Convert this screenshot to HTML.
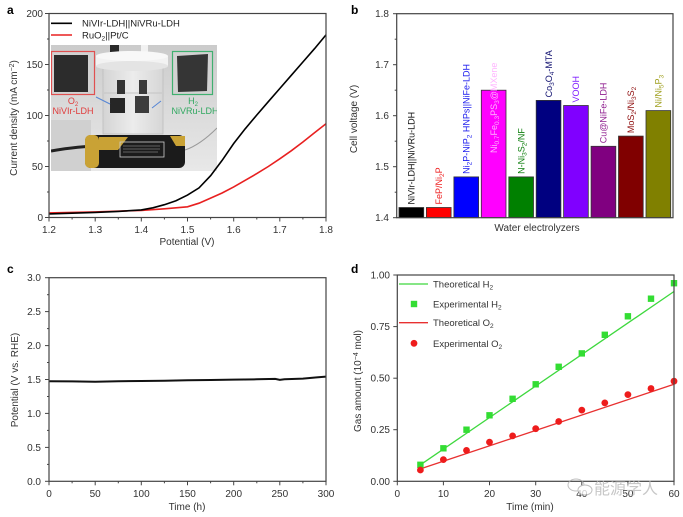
<!DOCTYPE html>
<html><head><meta charset="utf-8"><style>
html,body{margin:0;padding:0;background:#fff;}
svg{display:block;font-family:"Liberation Sans",Arial,sans-serif;}
</style></head><body>
<svg width="683" height="517" viewBox="0 0 683 517" xmlns="http://www.w3.org/2000/svg">
<defs>
<clipPath id="ph"><rect x="51" y="45" width="166" height="126"/></clipPath>
<linearGradient id="bg" x1="0" y1="0" x2="0" y2="1"><stop offset="0" stop-color="#cbcbcb"/><stop offset="0.5" stop-color="#dadada"/><stop offset="1" stop-color="#e8e8e8"/></linearGradient>
<linearGradient id="gl" x1="0" y1="0" x2="1" y2="0"><stop offset="0" stop-color="#d4d4d4"/><stop offset="0.5" stop-color="#ececec"/><stop offset="1" stop-color="#d6d6d6"/></linearGradient>
</defs>

<!-- ================= Panel a ================= -->
<text x="7" y="14" font-size="12" font-weight="bold">a</text>
<g clip-path="url(#ph)">
<rect x="51" y="45" width="166" height="126" fill="url(#bg)"/>
<rect x="51" y="120" width="40" height="51" fill="#d0d0d0"/>
<rect x="103" y="62" width="60" height="72" fill="url(#gl)" stroke="#bdbdbd" stroke-width="0.8"/>
<line x1="104" y1="93" x2="162" y2="93" stroke="#c4c4c4" stroke-width="1"/>
<rect x="110" y="45" width="9" height="7" fill="#2a2a2a"/>
<rect x="141" y="45" width="7" height="10" fill="#f2f2f2"/>
<rect x="96" y="56" width="72" height="10" fill="#f2f2f2"/>
<ellipse cx="132" cy="56" rx="36" ry="5" fill="#f8f8f8"/>
<ellipse cx="132" cy="66" rx="36" ry="5" fill="#e4e4e4"/>
<rect x="117" y="80" width="8" height="14" fill="#333"/>
<rect x="139" y="80" width="8" height="14" fill="#3a3a3a"/>
<rect x="110" y="98" width="15" height="15" fill="#262626"/>
<rect x="135" y="96" width="14" height="17" fill="#3c3c3c"/>
<path d="M51 151 Q80 146 100 146" stroke="#222" stroke-width="3" fill="none"/>
<path d="M185 150 Q200 145 217 128" stroke="#999" stroke-width="1" fill="none"/>
<rect x="85" y="135" width="100" height="33" rx="6" fill="#1b1b1b"/>
<rect x="85" y="135" width="14" height="33" rx="5" fill="#c9a235"/>
<polygon points="99,137 128,137 118,150 99,150" fill="#c9a235"/>
<polygon points="170,136 185,136 185,146 176,146" fill="#c9a235"/>
<rect x="120" y="142" width="44" height="15" fill="none" stroke="#cfcfcf" stroke-width="0.8"/>
<line x1="123" y1="146" x2="160" y2="146" stroke="#aaa" stroke-width="0.6"/>
<line x1="123" y1="149" x2="160" y2="149" stroke="#aaa" stroke-width="0.6"/>
<line x1="123" y1="152" x2="158" y2="152" stroke="#aaa" stroke-width="0.6"/>
<rect x="51.5" y="51.5" width="43" height="43" fill="#d2d2d2" stroke="#e05050" stroke-width="1.2"/>
<rect x="54" y="55" width="34" height="37" fill="#2c2c2c"/>
<rect x="172.5" y="51.5" width="40" height="43" fill="#d2d2d2" stroke="#40b070" stroke-width="1.2"/>
<polygon points="177,56 208,54 207,91 178,92" fill="#353535"/>
<line x1="96" y1="97" x2="110" y2="104" stroke="#5585d5" stroke-width="1"/>
<line x1="161" y1="101" x2="152" y2="108" stroke="#5585d5" stroke-width="1"/>
<text x="73" y="104" font-size="9" fill="#e03a3a" text-anchor="middle">O<tspan font-size="6" dy="2">2</tspan></text>
<text x="73" y="114" font-size="9" fill="#e03a3a" text-anchor="middle">NiVIr-LDH</text>
<text x="193" y="104" font-size="9" fill="#30a860" text-anchor="middle">H<tspan font-size="6" dy="2">2</tspan></text>
<text x="195" y="114" font-size="9" fill="#30a860" text-anchor="middle">NiVRu-LDH</text>
</g>
<polyline fill="none" stroke="#e82020" stroke-width="1.6" points="49,212.9 95.2,211.9 141.3,210.4 164.4,208.8 187.5,206.8 199,203.2 210.6,198.1 222.1,193 233.7,186.9 245.2,180.3 256.8,173.6 268.3,166.5 279.8,158.8 291.4,150.7 302.9,142 314.5,132.8 326,123.7"/>
<polyline fill="none" stroke="#000" stroke-width="1.6" points="49,213.9 72.1,213.2 95.2,212.4 118.3,211.4 141.3,209.9 152.9,207.8 164.4,204.7 176,200.7 187.5,195.1 199,187.9 210.6,175.7 222.1,160.4 233.7,143.5 245.2,128.8 256.8,115 268.3,101.7 279.8,88.5 291.4,75.2 302.9,62 314.5,48.7 326,34.9"/>
<rect x="49" y="13.5" width="277" height="204" fill="none" stroke="#444" stroke-width="1.2"/>
<g stroke="#444" stroke-width="1">
<line x1="45" y1="13.5" x2="49" y2="13.5"/><line x1="45" y1="64.5" x2="49" y2="64.5"/><line x1="45" y1="115.5" x2="49" y2="115.5"/><line x1="45" y1="166.5" x2="49" y2="166.5"/><line x1="45" y1="217.5" x2="49" y2="217.5"/>
<line x1="47" y1="39" x2="49" y2="39"/><line x1="47" y1="90" x2="49" y2="90"/><line x1="47" y1="141" x2="49" y2="141"/><line x1="47" y1="192" x2="49" y2="192"/>
<line x1="49" y1="217.5" x2="49" y2="221.5"/><line x1="95.2" y1="217.5" x2="95.2" y2="221.5"/><line x1="141.3" y1="217.5" x2="141.3" y2="221.5"/><line x1="187.5" y1="217.5" x2="187.5" y2="221.5"/><line x1="233.7" y1="217.5" x2="233.7" y2="221.5"/><line x1="279.8" y1="217.5" x2="279.8" y2="221.5"/><line x1="326" y1="217.5" x2="326" y2="221.5"/>
<line x1="72.1" y1="217.5" x2="72.1" y2="219.5"/><line x1="118.3" y1="217.5" x2="118.3" y2="219.5"/><line x1="164.4" y1="217.5" x2="164.4" y2="219.5"/><line x1="210.6" y1="217.5" x2="210.6" y2="219.5"/><line x1="256.8" y1="217.5" x2="256.8" y2="219.5"/><line x1="302.9" y1="217.5" x2="302.9" y2="219.5"/>
</g>
<g font-size="10" fill="#333" text-anchor="end">
<text x="43" y="17">200</text><text x="43" y="68">150</text><text x="43" y="119">100</text><text x="43" y="170">50</text><text x="43" y="221">0</text>
</g>
<g font-size="10" fill="#333" text-anchor="middle">
<text x="49" y="233">1.2</text><text x="95.2" y="233">1.3</text><text x="141.3" y="233">1.4</text><text x="187.5" y="233">1.5</text><text x="233.7" y="233">1.6</text><text x="279.8" y="233">1.7</text><text x="326" y="233">1.8</text>
<text x="187" y="245">Potential (V)</text>
</g>
<text transform="translate(17,118) rotate(-90)" font-size="10" fill="#333" text-anchor="middle">Current density (mA cm<tspan font-size="7" dy="-3">−2</tspan><tspan dy="3">)</tspan></text>
<line x1="51" y1="23.3" x2="72" y2="23.3" stroke="#000" stroke-width="1.6"/>
<text x="82" y="26.5" font-size="9.5" fill="#222">NiVIr-LDH||NiVRu-LDH</text>
<line x1="51" y1="35" x2="72" y2="35" stroke="#e82020" stroke-width="1.6"/>
<text x="82" y="38.5" font-size="9.5" fill="#222">RuO<tspan font-size="6.5" dy="2">2</tspan><tspan dy="-2">||Pt/C</tspan></text>

<!-- ================= Panel b ================= -->
<text x="351" y="14" font-size="12" font-weight="bold">b</text>
<g stroke="#333" stroke-width="0.8">
<rect x="399" y="207.5" width="24.7" height="10.2" fill="#000"/>
<rect x="426.4" y="207.5" width="24.7" height="10.2" fill="#ff0000"/>
<rect x="453.9" y="176.9" width="24.7" height="40.8" fill="#0000ff"/>
<rect x="481.3" y="90.2" width="24.7" height="127.5" fill="#ff00ff"/>
<rect x="508.8" y="176.9" width="24.7" height="40.8" fill="#008000"/>
<rect x="536.2" y="100.4" width="24.7" height="117.3" fill="#000080"/>
<rect x="563.6" y="105.5" width="24.7" height="112.2" fill="#8000ff"/>
<rect x="591.1" y="146.3" width="24.7" height="71.4" fill="#800080"/>
<rect x="618.5" y="136.1" width="24.7" height="81.6" fill="#800000"/>
<rect x="646" y="110.6" width="24.7" height="107.1" fill="#808000"/>
</g>
<g font-size="9">
<text transform="translate(414.6,204.5) rotate(-90)" fill="#111">NiVIr-LDH||NiVRu-LDH</text>
<text transform="translate(442,204.5) rotate(-90)" fill="#ee2020">FeP/Ni<tspan font-size="6.5" dy="2">2</tspan><tspan dy="-2">P</tspan></text>
<text transform="translate(469.5,173.9) rotate(-90)" fill="#2020ee">Ni<tspan font-size="6.5" dy="2">2</tspan><tspan dy="-2">P-NiP</tspan><tspan font-size="6.5" dy="2">2</tspan><tspan dy="-2"> HNPs||NiFe-LDH</tspan></text>
<text transform="translate(496.9,153) rotate(-90)" fill="#ffb4ff">Ni<tspan font-size="6.5" dy="2">0.7</tspan><tspan dy="-2">Fe</tspan><tspan font-size="6.5" dy="2">0.3</tspan><tspan dy="-2">PS</tspan><tspan font-size="6.5" dy="2">3</tspan><tspan dy="-2">@MXene</tspan></text>
<text transform="translate(524.4,173.9) rotate(-90)" fill="#108010">N-Ni<tspan font-size="6.5" dy="2">3</tspan><tspan dy="-2">S</tspan><tspan font-size="6.5" dy="2">2</tspan><tspan dy="-2">/NF</tspan></text>
<text transform="translate(551.8,97.4) rotate(-90)" fill="#101070">Co<tspan font-size="6.5" dy="2">3</tspan><tspan dy="-2">O</tspan><tspan font-size="6.5" dy="2">4</tspan><tspan dy="-2">-MTA</tspan></text>
<text transform="translate(579.2,102.5) rotate(-90)" fill="#8020ff">VOOH</text>
<text transform="translate(606.7,143.3) rotate(-90)" fill="#902090">Cu@NiFe-LDH</text>
<text transform="translate(634.1,133.1) rotate(-90)" fill="#901010">MoS<tspan font-size="6.5" dy="2">2</tspan><tspan dy="-2">/Ni</tspan><tspan font-size="6.5" dy="2">3</tspan><tspan dy="-2">S</tspan><tspan font-size="6.5" dy="2">2</tspan></text>
<text transform="translate(661.6,107.6) rotate(-90)" fill="#a0a020">Ni/Ni<tspan font-size="6.5" dy="2">5</tspan><tspan dy="-2">P</tspan><tspan font-size="6.5" dy="2">3</tspan></text>
</g>
<rect x="396.7" y="13.7" width="276.3" height="204" fill="none" stroke="#444" stroke-width="1.2"/>
<g stroke="#444" stroke-width="1">
<line x1="393" y1="13.7" x2="396.7" y2="13.7"/><line x1="393" y1="64.7" x2="396.7" y2="64.7"/><line x1="393" y1="115.7" x2="396.7" y2="115.7"/><line x1="393" y1="166.7" x2="396.7" y2="166.7"/><line x1="393" y1="217.7" x2="396.7" y2="217.7"/>
<line x1="394.7" y1="39.2" x2="396.7" y2="39.2"/><line x1="394.7" y1="90.2" x2="396.7" y2="90.2"/><line x1="394.7" y1="141.2" x2="396.7" y2="141.2"/><line x1="394.7" y1="192.2" x2="396.7" y2="192.2"/>
</g>
<g font-size="10" fill="#333" text-anchor="end">
<text x="389" y="17.2">1.8</text><text x="389" y="68.2">1.7</text><text x="389" y="119.2">1.6</text><text x="389" y="170.2">1.5</text><text x="389" y="221.2">1.4</text>
</g>
<text x="537" y="231" font-size="10" fill="#333" text-anchor="middle">Water electrolyzers</text>
<text transform="translate(357,119) rotate(-90)" font-size="10" fill="#333" text-anchor="middle">Cell voltage (V)</text>

<!-- ================= Panel c ================= -->
<text x="7" y="273" font-size="12" font-weight="bold">c</text>
<polyline fill="none" stroke="#111" stroke-width="2" points="49,381.3 72.1,381.4 95.2,381.7 118.3,381.3 141.3,381 164.4,380.7 187.5,380.3 210.6,380 233.7,379.6 256.8,379.3 275.2,378.9 279.8,379.9 284.4,379.3 302.9,378.6 316.7,377.4 326,376.6"/>
<rect x="49" y="277.7" width="277" height="203.6" fill="none" stroke="#444" stroke-width="1.2"/>
<g stroke="#444" stroke-width="1">
<line x1="45" y1="277.7" x2="49" y2="277.7"/><line x1="45" y1="311.6" x2="49" y2="311.6"/><line x1="45" y1="345.6" x2="49" y2="345.6"/><line x1="45" y1="379.5" x2="49" y2="379.5"/><line x1="45" y1="413.4" x2="49" y2="413.4"/><line x1="45" y1="447.4" x2="49" y2="447.4"/><line x1="45" y1="481.3" x2="49" y2="481.3"/>
<line x1="47" y1="294.7" x2="49" y2="294.7"/><line x1="47" y1="328.6" x2="49" y2="328.6"/><line x1="47" y1="362.5" x2="49" y2="362.5"/><line x1="47" y1="396.5" x2="49" y2="396.5"/><line x1="47" y1="430.4" x2="49" y2="430.4"/><line x1="47" y1="464.4" x2="49" y2="464.4"/>
<line x1="49" y1="481.3" x2="49" y2="485.3"/><line x1="95.2" y1="481.3" x2="95.2" y2="485.3"/><line x1="141.3" y1="481.3" x2="141.3" y2="485.3"/><line x1="187.5" y1="481.3" x2="187.5" y2="485.3"/><line x1="233.7" y1="481.3" x2="233.7" y2="485.3"/><line x1="279.8" y1="481.3" x2="279.8" y2="485.3"/><line x1="326" y1="481.3" x2="326" y2="485.3"/>
<line x1="72.1" y1="481.3" x2="72.1" y2="483.3"/><line x1="118.3" y1="481.3" x2="118.3" y2="483.3"/><line x1="164.4" y1="481.3" x2="164.4" y2="483.3"/><line x1="210.6" y1="481.3" x2="210.6" y2="483.3"/><line x1="256.8" y1="481.3" x2="256.8" y2="483.3"/><line x1="302.9" y1="481.3" x2="302.9" y2="483.3"/>
</g>
<g font-size="10" fill="#333" text-anchor="end">
<text x="41" y="281.2">3.0</text><text x="41" y="315.1">2.5</text><text x="41" y="349.1">2.0</text><text x="41" y="383">1.5</text><text x="41" y="416.9">1.0</text><text x="41" y="450.9">0.5</text><text x="41" y="484.8">0.0</text>
</g>
<g font-size="10" fill="#333" text-anchor="middle">
<text x="49" y="497">0</text><text x="95.2" y="497">50</text><text x="141.3" y="497">100</text><text x="187.5" y="497">150</text><text x="233.7" y="497">200</text><text x="279.8" y="497">250</text><text x="326" y="497">300</text>
<text x="187" y="510">Time (h)</text>
</g>
<text transform="translate(18,380) rotate(-90)" font-size="10" fill="#333" text-anchor="middle">Potential (V vs. RHE)</text>

<!-- ================= Panel d ================= -->
<text x="351" y="273" font-size="12" font-weight="bold">d</text>
<line x1="420.4" y1="464.8" x2="674" y2="291.5" stroke="#3ed83e" stroke-width="1.3"/>
<line x1="420.4" y1="468.9" x2="674" y2="384.3" stroke="#e83030" stroke-width="1.3"/>
<g fill="#33dd33">
<rect x="417.2" y="461.6" width="6.4" height="6.4"/><rect x="440.2" y="445.1" width="6.4" height="6.4"/><rect x="463.3" y="426.5" width="6.4" height="6.4"/><rect x="486.3" y="412.1" width="6.4" height="6.4"/><rect x="509.4" y="395.6" width="6.4" height="6.4"/><rect x="532.5" y="381.1" width="6.4" height="6.4"/><rect x="555.5" y="363.6" width="6.4" height="6.4"/><rect x="578.6" y="350.2" width="6.4" height="6.4"/><rect x="601.6" y="331.6" width="6.4" height="6.4"/><rect x="624.7" y="313.1" width="6.4" height="6.4"/><rect x="647.8" y="295.5" width="6.4" height="6.4"/><rect x="670.8" y="280" width="6.4" height="6.4"/>
</g>
<g fill="#ee1c1c">
<circle cx="420.4" cy="470" r="3.4"/><circle cx="443.4" cy="459.6" r="3.4"/><circle cx="466.5" cy="450.4" r="3.4"/><circle cx="489.5" cy="442.1" r="3.4"/><circle cx="512.6" cy="435.9" r="3.4"/><circle cx="535.7" cy="428.7" r="3.4"/><circle cx="558.7" cy="421.5" r="3.4"/><circle cx="581.8" cy="410.1" r="3.4"/><circle cx="604.8" cy="402.9" r="3.4"/><circle cx="627.9" cy="394.6" r="3.4"/><circle cx="651" cy="388.5" r="3.4"/><circle cx="674" cy="381.2" r="3.4"/>
</g>
<rect x="397.3" y="275" width="276.7" height="206.3" fill="none" stroke="#444" stroke-width="1.2"/>
<g stroke="#444" stroke-width="1">
<line x1="393.3" y1="275" x2="397.3" y2="275"/><line x1="393.3" y1="326.6" x2="397.3" y2="326.6"/><line x1="393.3" y1="378.2" x2="397.3" y2="378.2"/><line x1="393.3" y1="429.7" x2="397.3" y2="429.7"/><line x1="393.3" y1="481.3" x2="397.3" y2="481.3"/>
<line x1="397.3" y1="481.3" x2="397.3" y2="485.3"/><line x1="443.4" y1="481.3" x2="443.4" y2="485.3"/><line x1="489.5" y1="481.3" x2="489.5" y2="485.3"/><line x1="535.7" y1="481.3" x2="535.7" y2="485.3"/><line x1="581.8" y1="481.3" x2="581.8" y2="485.3"/><line x1="627.9" y1="481.3" x2="627.9" y2="485.3"/><line x1="674" y1="481.3" x2="674" y2="485.3"/>
</g>
<g font-size="10" fill="#333" text-anchor="end">
<text x="390" y="278.5">1.00</text><text x="390" y="330.1">0.75</text><text x="390" y="381.7">0.50</text><text x="390" y="433.2">0.25</text><text x="390" y="484.8">0.00</text>
</g>
<g font-size="10" fill="#333" text-anchor="middle">
<text x="397.3" y="497">0</text><text x="443.4" y="497">10</text><text x="489.5" y="497">20</text><text x="535.7" y="497">30</text><text x="581.8" y="497">40</text><text x="627.9" y="497">50</text><text x="674" y="497">60</text>
<text x="530" y="510">Time (min)</text>
</g>
<text transform="translate(361,381) rotate(-90)" font-size="10" fill="#333" text-anchor="middle">Gas amount (10<tspan font-size="7" dy="-3">−4</tspan><tspan dy="3"> mol)</tspan></text>
<line x1="399" y1="284" x2="428" y2="284" stroke="#3ed83e" stroke-width="1.3"/>
<text x="433" y="287.5" font-size="9.5" fill="#333">Theoretical H<tspan font-size="6.5" dy="2">2</tspan></text>
<rect x="410.8" y="300.8" width="6.4" height="6.4" fill="#33dd33"/>
<text x="433" y="307.5" font-size="9.5" fill="#333">Experimental H<tspan font-size="6.5" dy="2">2</tspan></text>
<line x1="399" y1="322.7" x2="428" y2="322.7" stroke="#e83030" stroke-width="1.3"/>
<text x="433" y="326.2" font-size="9.5" fill="#333">Theoretical O<tspan font-size="6.5" dy="2">2</tspan></text>
<circle cx="414" cy="343.3" r="3.4" fill="#ee1c1c"/>
<text x="433" y="346.8" font-size="9.5" fill="#333">Experimental O<tspan font-size="6.5" dy="2">2</tspan></text>

<g opacity="0.75">
<ellipse cx="576" cy="485" rx="8" ry="6" fill="none" stroke="#aaa" stroke-width="1"/>
<ellipse cx="585" cy="490" rx="7" ry="5" fill="#fff" stroke="#aaa" stroke-width="1"/>
<text x="594" y="494" font-size="16" fill="#b5b5b5" font-family="'Liberation Sans','Noto Sans CJK SC',sans-serif">能源学人</text>
</g>
</svg>
</body></html>
